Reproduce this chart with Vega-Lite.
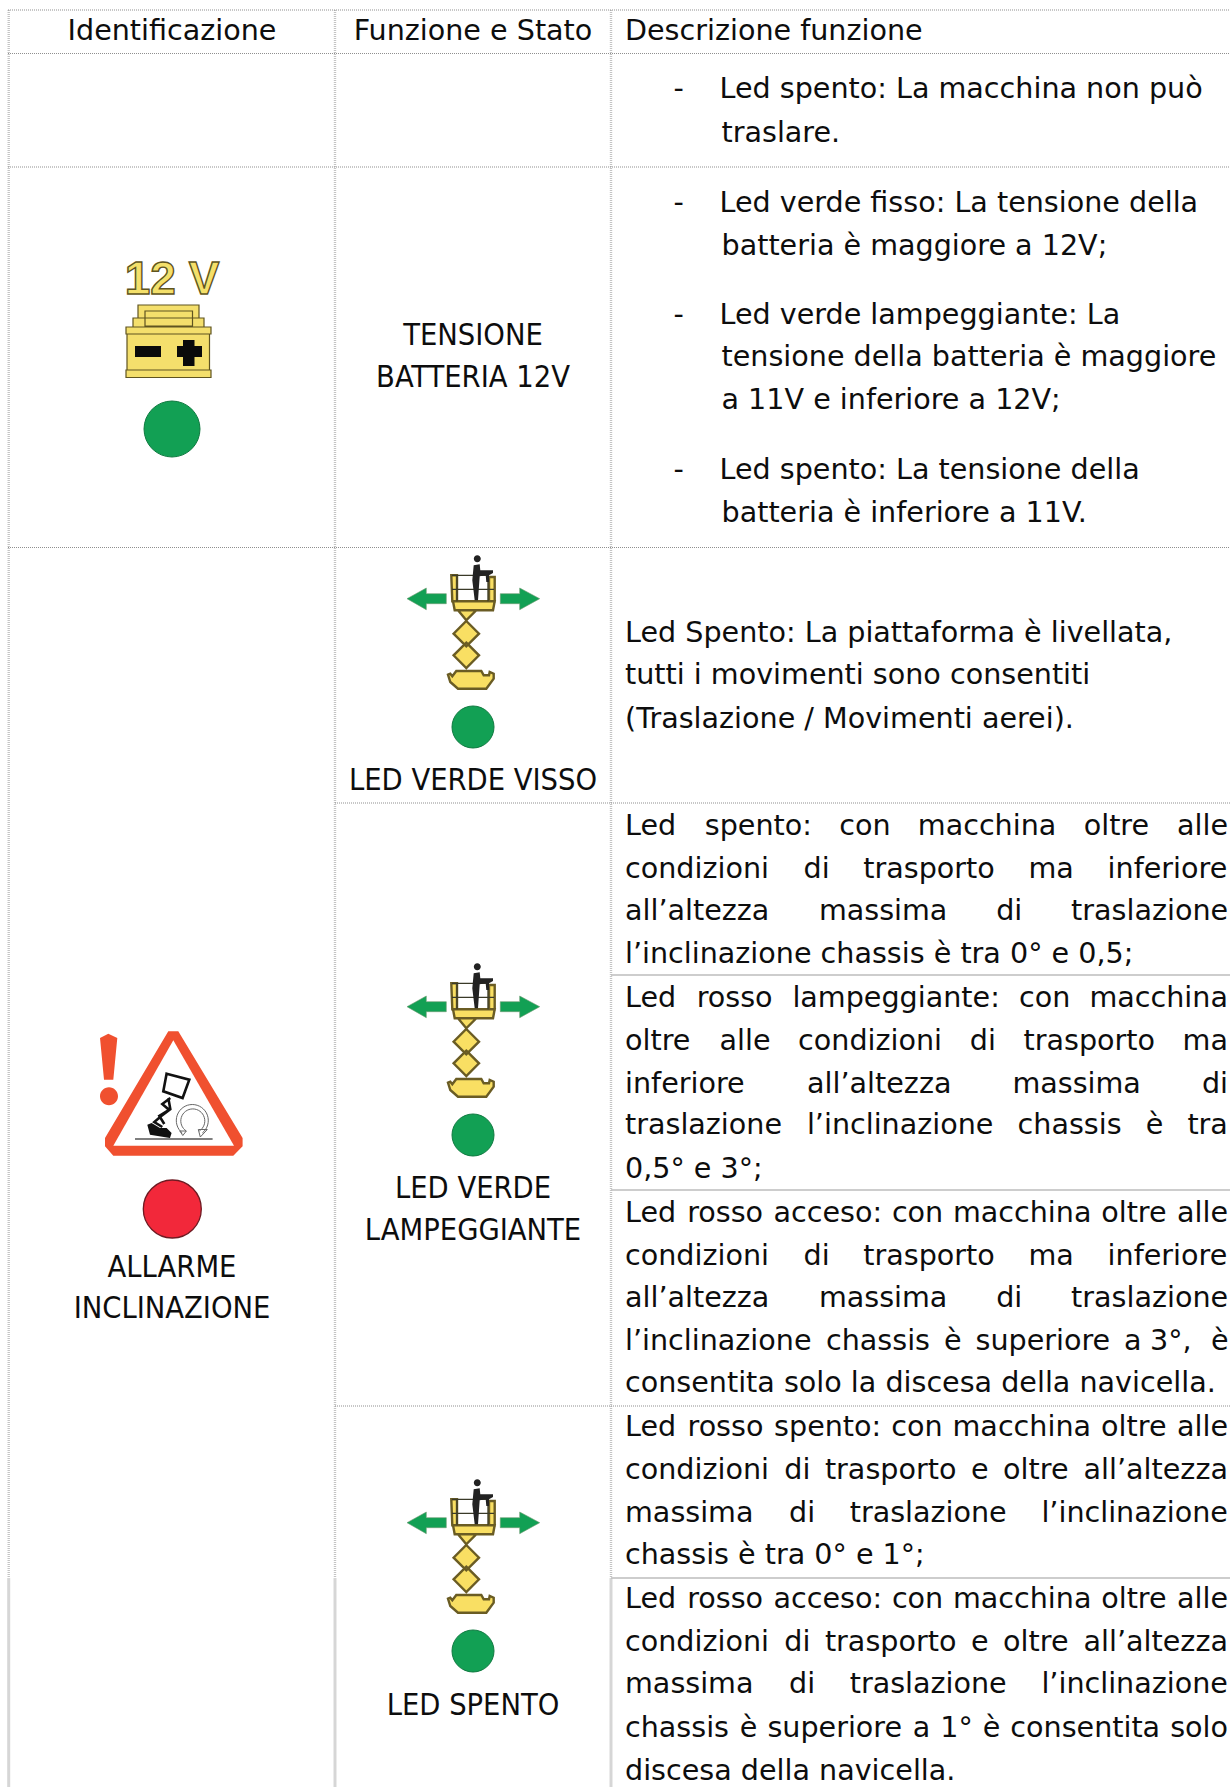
{"$schema":"https://vega.github.io/schema/vega-lite/v6.json","width":1230,"height":1787,"padding":0,"autosize":{"type":"none"},"background":"white","view":{"stroke":null},
"datasets":{
"dotV":[{"x":8.7,"y":10,"x2":8.7,"y2":1578},{"x":335,"y":10,"x2":335,"y2":1578},{"x":611,"y":10,"x2":611,"y2":1578}],
"solidV":[{"x":8.7,"y":1578,"x2":8.7,"y2":1787},{"x":335,"y":1578,"x2":335,"y2":1787},{"x":611,"y":1578,"x2":611,"y2":1787}],
"dotH":[{"x":8,"y":10,"x2":1230,"y2":10},{"x":8,"y":53.5,"x2":1230,"y2":53.5},{"x":8,"y":167,"x2":1230,"y2":167},{"x":8,"y":547.5,"x2":1230,"y2":547.5},{"x":335,"y":803,"x2":1230,"y2":803},{"x":335,"y":1406,"x2":1230,"y2":1406}],
"solidH":[{"x":611,"y":975,"x2":1230,"y2":975},{"x":611,"y":1190,"x2":1230,"y2":1190},{"x":611,"y":1578,"x2":1230,"y2":1578}],
"lifts":[{"x":473,"y":727},{"x":473,"y":1135},{"x":473,"y":1651}],
"battery":[{"x":172,"y":429}],
"alarm":[{"x":172.3,"y":1209}],
"volt":[{"x":172,"y":294,"t":"12 V"}],
"header":[{"x":172,"y":40,"t":"Identificazione"},{"x":473,"y":40,"t":"Funzione e Stato"}],
"centered":[
{"x":473,"y":345,"t":"TENSIONE"},{"x":473,"y":387,"t":"BATTERIA 12V"},
{"x":473,"y":790,"t":"LED VERDE VISSO"},
{"x":473,"y":1198,"t":"LED VERDE"},{"x":473,"y":1240,"t":"LAMPEGGIANTE"},
{"x":172,"y":1277,"t":"ALLARME"},{"x":172,"y":1318,"t":"INCLINAZIONE"},
{"x":473,"y":1715,"t":"LED SPENTO"}],
"left":[
{"x":625,"y":40,"t":"Descrizione funzione"},
{"x":673.5,"y":98,"t":"-"},{"x":719.5,"y":98,"t":"Led spento: La macchina non può"},{"x":721.5,"y":142,"t":"traslare."},
{"x":673.5,"y":212,"t":"-"},{"x":719.5,"y":212,"t":"Led verde fisso: La tensione della"},{"x":721.5,"y":255,"t":"batteria è maggiore a 12V;"},
{"x":673.5,"y":324,"t":"-"},{"x":719.5,"y":324,"t":"Led verde lampeggiante: La"},{"x":721.5,"y":366,"t":"tensione della batteria è maggiore"},{"x":721.5,"y":409,"t":"a 11V e inferiore a 12V;"},
{"x":673.5,"y":479,"t":"-"},{"x":719.5,"y":479,"t":"Led spento: La tensione della"},{"x":721.5,"y":522,"t":"batteria è inferiore a 11V."},
{"x":625,"y":642,"t":"Led Spento: La piattaforma è livellata,"},{"x":625,"y":684,"t":"tutti i movimenti sono consentiti"},{"x":625,"y":728,"t":"(Traslazione / Movimenti aerei)."},
{"x":625,"y":835,"t":"Led"},{"x":704.8,"y":835,"t":"spento:"},{"x":839.2,"y":835,"t":"con"},{"x":917.8,"y":835,"t":"macchina"},{"x":1083.7,"y":835,"t":"oltre"},{"x":1177,"y":835,"t":"alle"},
{"x":625,"y":878,"t":"condizioni"},{"x":803.5,"y":878,"t":"di"},{"x":863.3,"y":878,"t":"trasporto"},{"x":1028.5,"y":878,"t":"ma"},{"x":1107.6,"y":878,"t":"inferiore"},
{"x":625,"y":920,"t":"all’altezza"},{"x":818.9,"y":920,"t":"massima"},{"x":996.2,"y":920,"t":"di"},{"x":1071.1,"y":920,"t":"traslazione"},
{"x":625,"y":963,"t":"l’inclinazione chassis è tra 0° e 0,5;"},
{"x":625,"y":1007,"t":"Led"},{"x":696.7,"y":1007,"t":"rosso"},{"x":792.4,"y":1007,"t":"lampeggiante:"},{"x":1019,"y":1007,"t":"con"},{"x":1089.4,"y":1007,"t":"macchina"},
{"x":625,"y":1050,"t":"oltre"},{"x":719.5,"y":1050,"t":"alle"},{"x":798.1,"y":1050,"t":"condizioni"},{"x":969.8,"y":1050,"t":"di"},{"x":1023.5,"y":1050,"t":"trasporto"},{"x":1182.6,"y":1050,"t":"ma"},
{"x":625,"y":1093,"t":"inferiore"},{"x":807.1,"y":1093,"t":"all’altezza"},{"x":1012.4,"y":1093,"t":"massima"},{"x":1201.9,"y":1093,"t":"di"},
{"x":625,"y":1134,"t":"traslazione"},{"x":806.9,"y":1134,"t":"l’inclinazione"},{"x":1017.6,"y":1134,"t":"chassis"},{"x":1145.7,"y":1134,"t":"è"},{"x":1187.4,"y":1134,"t":"tra"},
{"x":625,"y":1178,"t":"0,5° e 3°;"},
{"x":625,"y":1222,"t":"Led"},{"x":687.2,"y":1222,"t":"rosso"},{"x":773.5,"y":1222,"t":"acceso:"},{"x":891.9,"y":1222,"t":"con"},{"x":952.9,"y":1222,"t":"macchina"},{"x":1101.2,"y":1222,"t":"oltre"},{"x":1177,"y":1222,"t":"alle"},
{"x":625,"y":1265,"t":"condizioni"},{"x":803.5,"y":1265,"t":"di"},{"x":863.3,"y":1265,"t":"trasporto"},{"x":1028.5,"y":1265,"t":"ma"},{"x":1107.6,"y":1265,"t":"inferiore"},
{"x":625,"y":1307,"t":"all’altezza"},{"x":818.9,"y":1307,"t":"massima"},{"x":996.2,"y":1307,"t":"di"},{"x":1071.1,"y":1307,"t":"traslazione"},
{"x":625,"y":1350,"t":"l’inclinazione"},{"x":826,"y":1350,"t":"chassis"},{"x":944,"y":1350,"t":"è"},{"x":975.5,"y":1350,"t":"superiore"},{"x":1124,"y":1350,"t":"a"},{"x":1150,"y":1350,"t":"3°,"},{"x":1211,"y":1350,"t":"è"},
{"x":625,"y":1392,"t":"consentita solo la discesa della navicella."},
{"x":625,"y":1436,"t":"Led"},{"x":687.5,"y":1436,"t":"rosso"},{"x":774.1,"y":1436,"t":"spento:"},{"x":891.2,"y":1436,"t":"con"},{"x":952.5,"y":1436,"t":"macchina"},{"x":1101.1,"y":1436,"t":"oltre"},{"x":1177,"y":1436,"t":"alle"},
{"x":625,"y":1479,"t":"condizioni"},{"x":784.3,"y":1479,"t":"di"},{"x":824.9,"y":1479,"t":"trasporto"},{"x":970.9,"y":1479,"t":"e"},{"x":1003.1,"y":1479,"t":"oltre"},{"x":1083.6,"y":1479,"t":"all’altezza"},
{"x":625,"y":1522,"t":"massima"},{"x":789,"y":1522,"t":"di"},{"x":849.7,"y":1522,"t":"traslazione"},{"x":1041.4,"y":1522,"t":"l’inclinazione"},
{"x":625,"y":1564,"t":"chassis è tra 0° e 1°;"},
{"x":625,"y":1608,"t":"Led"},{"x":687.2,"y":1608,"t":"rosso"},{"x":773.5,"y":1608,"t":"acceso:"},{"x":891.9,"y":1608,"t":"con"},{"x":952.9,"y":1608,"t":"macchina"},{"x":1101.2,"y":1608,"t":"oltre"},{"x":1177,"y":1608,"t":"alle"},
{"x":625,"y":1651,"t":"condizioni"},{"x":784.3,"y":1651,"t":"di"},{"x":824.9,"y":1651,"t":"trasporto"},{"x":970.9,"y":1651,"t":"e"},{"x":1003.1,"y":1651,"t":"oltre"},{"x":1083.6,"y":1651,"t":"all’altezza"},
{"x":625,"y":1693,"t":"massima"},{"x":789,"y":1693,"t":"di"},{"x":849.7,"y":1693,"t":"traslazione"},{"x":1041.4,"y":1693,"t":"l’inclinazione"},
{"x":625,"y":1737,"t":"chassis"},{"x":739.8,"y":1737,"t":"è"},{"x":767.4,"y":1737,"t":"superiore"},{"x":912.7,"y":1737,"t":"a"},{"x":940.2,"y":1737,"t":"1°"},{"x":982.7,"y":1737,"t":"è"},{"x":1010.3,"y":1737,"t":"consentita"},{"x":1170.2,"y":1737,"t":"solo"},
{"x":625,"y":1780,"t":"discesa della navicella."}]
},
"encoding":{"x":{"field":"x","type":"quantitative","scale":{"domain":[0,1230],"nice":false,"zero":false},"axis":null},"y":{"field":"y","type":"quantitative","scale":{"domain":[1787,0],"nice":false,"zero":false},"axis":null}},
"layer":[
{"data":{"name":"dotV"},"mark":{"type":"rule","color":"#c4c4c4","strokeWidth":2.4,"strokeDash":[1,1]},"encoding":{"x2":{"field":"x2"},"y2":{"field":"y2"}}},
{"data":{"name":"solidV"},"mark":{"type":"rule","color":"#d6d6d6","strokeWidth":3},"encoding":{"x2":{"field":"x2"},"y2":{"field":"y2"}}},
{"data":{"name":"dotH"},"mark":{"type":"rule","color":"#8f8f8f","strokeWidth":1,"strokeDash":[1,1]},"encoding":{"x2":{"field":"x2"},"y2":{"field":"y2"}}},
{"data":{"name":"solidH"},"mark":{"type":"rule","color":"#bdbdbd","strokeWidth":1.3},"encoding":{"x2":{"field":"x2"},"y2":{"field":"y2"}}},
{"data":{"name":"header"},"mark":{"type":"text","font":"DejaVu Sans","fontSize":28.6,"align":"center","baseline":"alphabetic","color":"#0d0d0d"},"encoding":{"text":{"field":"t"}}},
{"data":{"name":"centered"},"mark":{"type":"text","font":"DejaVu Sans Condensed","fontSize":30.5,"align":"center","baseline":"alphabetic","color":"#0d0d0d"},"encoding":{"text":{"field":"t"}}},
{"data":{"name":"left"},"mark":{"type":"text","font":"DejaVu Sans","fontSize":28.6,"align":"left","baseline":"alphabetic","color":"#0d0d0d"},"encoding":{"text":{"field":"t"}}},
{"data":{"name":"volt"},"mark":{"type":"text","font":"Liberation Sans","fontWeight":"bold","fontSize":46,"align":"center","baseline":"alphabetic","fill":"#f4e06a","stroke":"#5f5420","strokeWidth":1.4},"encoding":{"text":{"field":"t"}}},
{"data":{"name":"lifts"},"mark":{"type":"point","filled":true,"opacity":1,"size":1764,"fill":"#12a054","stroke":"#0f7a40","strokeWidth":1,"shape":"circle"}},
{"data":{"name":"battery"},"mark":{"type":"point","filled":true,"opacity":1,"size":3136,"fill":"#12a054","stroke":"#0f7a40","strokeWidth":1,"shape":"circle"}},
{"data":{"name":"alarm"},"mark":{"type":"point","filled":true,"opacity":1,"size":3364,"fill":"#f2283a","stroke":"#6e1a22","strokeWidth":1.3,"shape":"circle"}},
{"data":{"name":"lifts"},"mark":{"type":"point","filled":true,"opacity":1,"size":4,"fill":"#12a054","stroke":"#6d9a70","strokeWidth":0.6,"shape":"M-66,-128.3L-46.7,-139L-46.7,-133.3L-26.7,-133.3L-26.7,-123.3L-46.7,-123.3L-46.7,-117.3ZM27.3,-133.3L46.7,-133.3L46.7,-139L66.7,-128.3L46.7,-117.3L46.7,-123.3L27.3,-123.3Z"}},
{"data":{"name":"lifts"},"mark":{"type":"point","filled":true,"opacity":1,"size":4,"fill":"#f9df63","stroke":"#6a5c24","strokeWidth":2.4,"shape":"M-20,-125.7L21.7,-125.7L20,-116.7L-18.3,-116.7ZM-21.7,-151.7L-16,-151.7L-16,-125.7L-20.7,-125.7ZM16,-150L21.7,-150L21.7,-125.7L16,-125.7ZM-15,-116.7L3.3,-116.7L-6.7,-106.7ZM-6.7,-106L6,-93.3L-6.7,-80.6L-19.4,-93.3ZM-6.7,-84.4L6,-71.7L-6.7,-59L-19.4,-71.7ZM-25,-52.3L-22.7,-53.3L-20.7,-50.7L-16.7,-56L8.3,-56L10.7,-51.7L16,-51.7L16.7,-55L20.7,-53.3L20.7,-48.3L13.3,-38.3L-15,-38.3L-22.7,-45Z"}},
{"data":{"name":"lifts"},"mark":{"type":"point","filled":false,"opacity":1,"size":4,"stroke":"#3a3a28","strokeWidth":1.2,"shape":"M-21,-151.7L16,-151.7M-21,-137.7L21,-137.7M-16,-151.7L-16,-125.7M15,-150L15,-125.7"}},
{"data":{"name":"lifts"},"mark":{"type":"point","filled":true,"opacity":1,"size":4,"fill":"#222222","strokeWidth":0,"shape":"M7.8,-168.3A3.5,3.5,0,1,1,0.8,-168.3A3.5,3.5,0,1,1,7.8,-168.3ZM0.7,-161.7L6.7,-162.7L7.3,-156.7L20,-156.7L20,-154L16,-151.7L16,-145L13.3,-145L12.7,-151.7L6.7,-150.7L5,-126.7L1.7,-126.7L-0.7,-146.7Z"}},
{"data":{"name":"battery"},"mark":{"type":"point","filled":true,"opacity":1,"size":4,"fill":"#f4df6c","stroke":"#5f5420","strokeWidth":1.2,"shape":"M-34,-124L27,-124L27,-111L-34,-111ZM-39,-111L-27,-111L-27,-102L-39,-102ZM20.5,-111L32,-111L32,-102L20.5,-102ZM-27,-118L20.5,-118L20.5,-103L-27,-103ZM-46,-102L39,-102L39,-95L-46,-95ZM-45,-95L37.5,-95L37.5,-59L-45,-59ZM-46,-59L39,-59L39,-51.5L-46,-51.5Z"}},
{"data":{"name":"battery"},"mark":{"type":"point","filled":true,"opacity":1,"size":4,"fill":"#0a0a0a","strokeWidth":0,"shape":"M-37,-83L-11,-83L-11,-72L-37,-72ZM5,-83L11,-83L11,-89L22.5,-89L22.5,-83L30,-83L30,-72L22.5,-72L22.5,-63L11,-63L11,-72L5,-72Z"}},
{"data":{"name":"alarm"},"mark":{"type":"point","filled":true,"opacity":1,"size":4,"fill":"#f0502f","strokeWidth":0,"shape":"M-4,-177.7L6,-177.7L70.3,-71L70.3,-62.7L61,-53.3L-59,-53.3L-67.3,-62.7L-67.3,-71ZM-72.3,-171L-64,-175.3L-55,-171L-59,-129.3L-68.3,-129.3ZM-54.3,-112.7A9,9,0,1,1,-72.3,-112.7A9,9,0,1,1,-54.3,-112.7Z"}},
{"data":{"name":"alarm"},"mark":{"type":"point","filled":true,"opacity":1,"size":4,"fill":"#ffffff","strokeWidth":0,"shape":"M1,-168.7L61.7,-63.3L-59,-63.3Z"}},
{"data":{"name":"alarm"},"mark":{"type":"point","filled":true,"opacity":1,"size":4,"fill":"#111111","strokeWidth":0,"shape":"M-25,-84.3L-20.7,-86L-12.3,-81L-5.7,-81L-0.7,-76L-2.3,-71L-22.3,-74.3Z"}},
{"data":{"name":"alarm"},"mark":{"type":"point","filled":false,"opacity":1,"size":4,"stroke":"#111111","strokeWidth":2.6,"shape":"M-5.7,-135.3L17,-129.3L10.3,-111L-9,-117.7ZM-2,-111L-10,-105L-3,-99L-11,-93L-18,-87L-10,-82M-4,-111L-2,-100L-13,-93L-8,-85"}},
{"data":{"name":"alarm"},"mark":{"type":"point","filled":false,"opacity":1,"size":4,"stroke":"#666666","strokeWidth":1,"shape":"M10,-76A16,16,0,1,1,30,-76M14,-78A12,12,0,1,1,27,-78M7.5,-78L14,-78L10.5,-73.5ZM26,-79.5L35,-79.5L28,-72Z"}},
{"data":{"name":"alarm"},"mark":{"type":"point","filled":false,"opacity":1,"size":4,"stroke":"#555555","strokeWidth":1.5,"shape":"M-37.3,-70L40.3,-70"}}
]}
